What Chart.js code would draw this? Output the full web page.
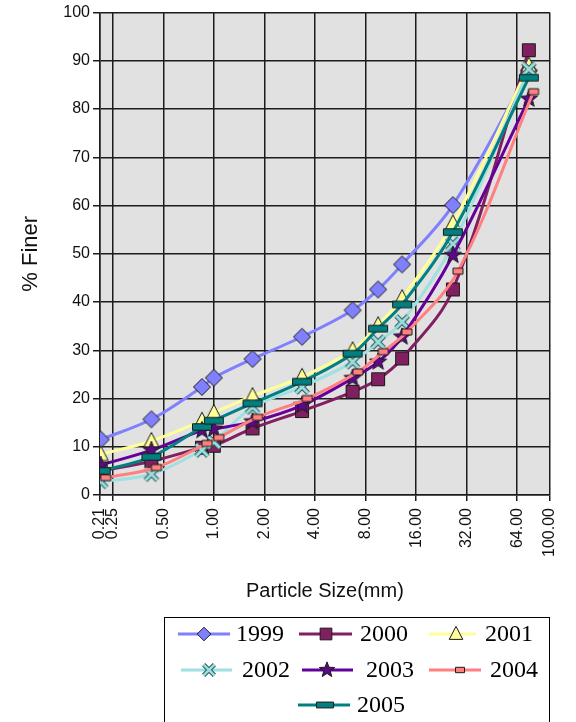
<!DOCTYPE html>
<html><head><meta charset="utf-8">
<script src="https://cdn.jsdelivr.net/npm/chart.js@4.4.1/dist/chart.umd.min.js"></script>
<style>html,body{margin:0;padding:0;background:#fff;}#wrap{width:576px;height:722px;position:relative;}</style>
</head><body><div id="wrap"><canvas id="c" width="576" height="722"></canvas></div>
<script>
// ---- data ----
const years = ['1999','2000','2001','2002','2003','2004','2005'];
const sieveSizes = [0.212, 0.425, 0.85, 1.0, 1.7, 3.35, 6.7, 9.5, 13.2, 26.5, 75];
const sieveSizes2004 = [0.227, 0.455, 0.91, 1.07, 1.82, 3.6, 7.2, 10.2, 14.1, 28.4, 80];
const finer1999 = [11.5, 15.7, 22.4, 24.3, 28.2, 32.8, 38.3, 42.6, 47.8, 60.1, 88.0];
const finer2000 = [5.0, 7.0, 9.8, 10.2, 13.8, 17.4, 21.4, 24.0, 28.3, 42.6, 92.2];
const finer2001 = [8.4, 11.2, 15.4, 17.0, 20.5, 24.5, 30.0, 35.2, 40.8, 56.3, 89.0];
const finer2002 = [2.8, 4.3, 9.3, 11.0, 18.2, 22.4, 27.6, 31.7, 35.9, 52.0, 88.3];
const finer2003 = [6.2, 9.3, 13.4, 13.7, 15.2, 18.6, 24.2, 27.6, 32.8, 49.7, 82.1];
const finer2004 = [3.6, 5.7, 10.7, 11.9, 16.1, 20.0, 25.5, 29.7, 33.8, 46.4, 83.6];
const finer2005 = [5.0, 7.9, 14.1, 15.4, 19.0, 23.5, 29.3, 34.5, 39.5, 54.5, 86.5];
const xTickValues = [0.21, 0.25, 0.5, 1, 2, 4, 8, 16, 32, 64, 100];
const yMin = 0, yMax = 100, yStep = 10;
const xTitle = 'Particle Size(mm)';
const yTitle = '% Finer';

// ---- styles ----
const lineColors = ['#8080ff','#802060','#ffff99','#a0e0e0','#660099','#ff8080','#008080'];
const markerTypes = ['diamond','square','triangle','x','star','rectS','rectL'];
const markerFills = ['#8080ff','#802060','#ffff99','#99dddd','#5a0a82','#ff8080','#008080'];

function drawShape(g, type, cx, cy, k, fill) {
  g.lineJoin = 'miter';
  g.strokeStyle = '#1a1a1a';
  g.lineWidth = 1;
  g.fillStyle = fill;
  g.beginPath();
  if (type === 'diamond') {
    const r = 8.5 * k;
    g.moveTo(cx, cy - r); g.lineTo(cx + r, cy); g.lineTo(cx, cy + r); g.lineTo(cx - r, cy); g.closePath();
    g.fill(); g.stroke();
  } else if (type === 'square') {
    const h = 6.5 * k;
    g.rect(cx - h, cy - h, 2 * h, 2 * h); g.fill(); g.stroke();
  } else if (type === 'triangle') {
    g.moveTo(cx, cy - 8.5 * k); g.lineTo(cx + 7.5 * k, cy + 6 * k); g.lineTo(cx - 7.5 * k, cy + 6 * k); g.closePath();
    g.fill(); g.stroke();
  } else if (type === 'x') {
    const a = 6 * k;
    g.lineCap = 'butt';
    g.moveTo(cx - a, cy - a); g.lineTo(cx + a, cy + a); g.moveTo(cx + a, cy - a); g.lineTo(cx - a, cy + a);
    g.lineWidth = 5 * k; g.strokeStyle = '#2a5a5a'; g.stroke();
    g.lineWidth = 3 * k; g.strokeStyle = fill; g.stroke();
  } else if (type === 'star') {
    const ro = 9 * k, ri = 3.8 * k;
    for (let i = 0; i < 10; i++) {
      const r = i % 2 === 0 ? ro : ri;
      const ang = -Math.PI / 2 + i * Math.PI / 5;
      const px = cx + r * Math.cos(ang), py = cy + r * Math.sin(ang);
      if (i === 0) g.moveTo(px, py); else g.lineTo(px, py);
    }
    g.closePath(); g.fill(); g.stroke();
  } else if (type === 'rectS') {
    const w = 10 * k, h = 6 * k;
    g.rect(cx - w / 2, cy - h / 2, w, h); g.fill(); g.stroke();
  } else if (type === 'rectL') {
    const w = 19 * k, h = 6.5 * k;
    g.rect(cx - w / 2, cy - h / 2, w, h); g.fill(); g.stroke();
  }
}
function makeMarker(type, k, fill) {
  const c = document.createElement('canvas');
  const s = Math.ceil(24 * k) + 4;
  c.width = s; c.height = s;
  const g = c.getContext('2d');
  drawShape(g, type, s / 2, s / 2, k, fill);
  return c;
}

const seriesValues = [finer1999, finer2000, finer2001, finer2002, finer2003, finer2004, finer2005];
const datasets = years.map((y, i) => {
  const xs = (y === '2004') ? sieveSizes2004 : sieveSizes;
  return {
    label: y,
    data: seriesValues[i].map((v, j) => ({x: xs[j], y: v})),
    borderColor: lineColors[i],
    backgroundColor: lineColors[i],
    borderWidth: 3,
    tension: 0.35,
    pointStyle: makeMarker(markerTypes[i], 1, markerFills[i]),
    pointRadius: 6,
    order: years.length - i,
    fill: false
  };
});

// ---- plugins ----
const bgPlugin = {
  id: 'bg',
  beforeDraw(chart) {
    const {ctx, chartArea: a} = chart;
    ctx.save();
    ctx.fillStyle = '#fff';
    ctx.fillRect(0, 0, chart.width, chart.height);
    ctx.fillStyle = '#e1e1e1';
    ctx.fillRect(a.left, a.top, a.right - a.left, a.bottom - a.top);
    ctx.restore();
  }
};
const legendPos = [
  {x1:178, x2:230, mx:204, tx:236, y:634},
  {x1:299, x2:352, mx:326, tx:360, y:634},
  {x1:429, x2:476, mx:456, tx:485, y:634},
  {x1:181, x2:232, mx:209, tx:242, y:670},
  {x1:302, x2:353, mx:327, tx:366, y:670},
  {x1:429, x2:481, mx:460, tx:490, y:670},
  {x1:298, x2:350, mx:325, tx:357, y:705}
];
const legendPlugin = {
  id: 'customLegend',
  afterDraw(chart) {
    const ctx = chart.ctx;
    ctx.save();
    ctx.fillStyle = '#fff';
    ctx.fillRect(164.5, 617.5, 385, 110);
    ctx.strokeStyle = '#000';
    ctx.lineWidth = 1;
    ctx.strokeRect(164.5, 617.5, 385, 110);
    years.forEach((y, i) => {
      const p = legendPos[i];
      ctx.beginPath();
      ctx.moveTo(p.x1, p.y); ctx.lineTo(p.x2, p.y);
      ctx.strokeStyle = lineColors[i]; ctx.lineWidth = 3; ctx.lineCap = 'butt';
      ctx.stroke();
      drawShape(ctx, markerTypes[i], p.mx, p.y, markerTypes[i] === 'diamond' ? 0.8 : 0.9, markerFills[i]);
      ctx.fillStyle = '#000';
      ctx.font = '24px "Liberation Serif", "Times New Roman", serif';
      ctx.textAlign = 'left';
      ctx.textBaseline = 'middle';
      ctx.fillText(y, p.tx, p.y + 1);
    });
    ctx.restore();
  }
};

const gridColor = '#1c1c1c';
new Chart(document.getElementById('c'), {
  type: 'line',
  data: {datasets},
  options: {
    responsive: false,
    animation: false,
    devicePixelRatio: 1,
    layout: {padding: {top: 12, right: 12, left: 0, bottom: 117}},
    plugins: {legend: {display: false}, tooltip: {enabled: false}},
    scales: {
      x: {
        type: 'logarithmic',
        min: 0.21, max: 100,
        afterBuildTicks(scale) { scale.ticks = xTickValues.map(v => ({value: v})); },
        afterFit(scale) { scale.height = 110; },
        grid: {color: gridColor, lineWidth: 1.5, tickLength: 6, drawTicks: true},
        border: {display: true, color: gridColor, width: 1.5},
        ticks: {
          autoSkip: false, minRotation: 90, maxRotation: 90, padding: 7,
          color: '#111',
          font: {family: '"Liberation Sans", Arial, sans-serif', size: 16},
          callback: (v) => Number(v).toFixed(2)
        },
        title: {display: true, text: xTitle, color: '#111',
          font: {family: '"Liberation Sans", Arial, sans-serif', size: 20},
          padding: {top: 0, bottom: 2}}
      },
      y: {
        type: 'linear',
        min: yMin, max: yMax,
        afterFit(scale) { scale.width = 100; },
        grid: {color: gridColor, lineWidth: 1.5, tickLength: 7, drawTicks: true},
        border: {display: true, color: gridColor, width: 1.5},
        ticks: {stepSize: yStep, padding: 3, color: '#111',
          font: {family: '"Liberation Sans", Arial, sans-serif', size: 16}},
        title: {display: true, text: yTitle, color: '#111',
          font: {family: '"Liberation Sans", Arial, sans-serif', size: 22},
          padding: {top: 18, bottom: 0}}
      }
    }
  },
  plugins: [bgPlugin, legendPlugin]
});
</script>
</body></html>
